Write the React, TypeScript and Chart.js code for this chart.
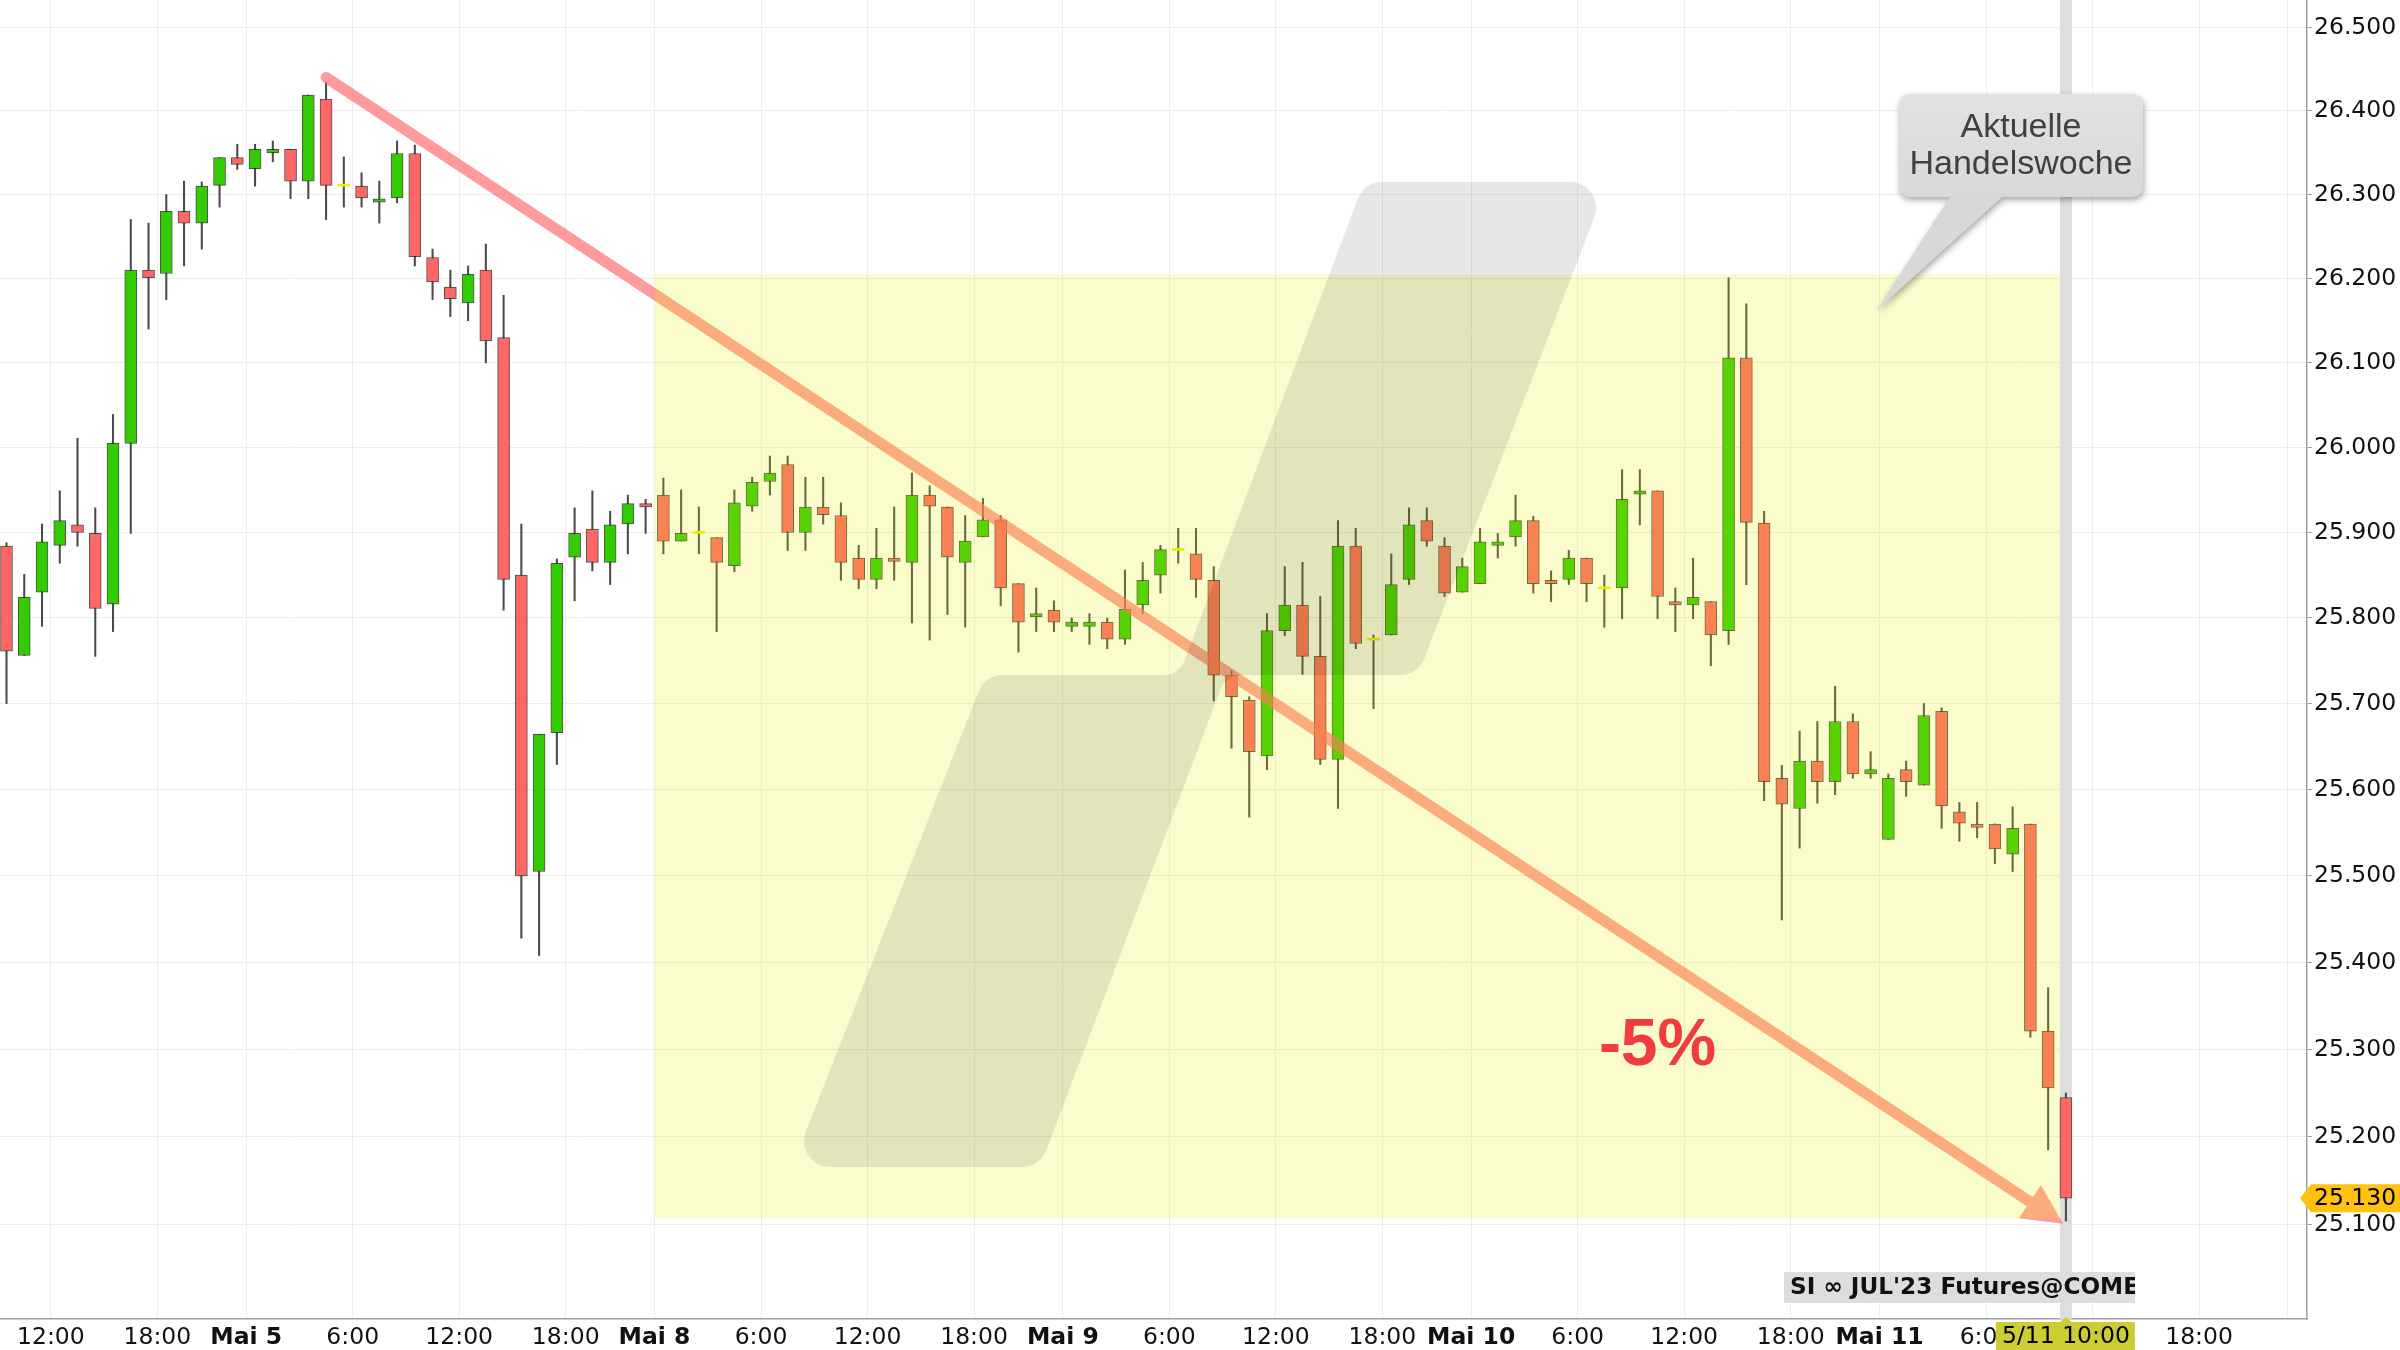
import React, { useEffect, useRef } from 'react';
import { Chart, registerables } from 'chart.js';

Chart.register(...registerables);

// Hourly candles, May 4 09:00 ... May 11 10:00 (index = candle number)
const opens = [
  25.884, 25.756, 25.830, 25.885, 25.909, 25.899, 25.816, 26.005, 26.210, 26.206,
  26.280, 26.266, 26.311, 26.344, 26.331, 26.350, 26.354, 26.316, 26.414, 26.310,
  26.310, 26.291, 26.296, 26.349, 26.225, 26.190, 26.171, 26.210, 26.130, 25.850,
  25.505, 25.666, 25.871, 25.904, 25.865, 25.910, 25.934, 25.944, 25.890, 25.899,
  25.894, 25.861, 25.931, 25.960, 25.980, 25.900, 25.930, 25.920, 25.870, 25.845,
  25.870, 25.865, 25.944, 25.930, 25.865, 25.895, 25.915, 25.840, 25.801, 25.809,
  25.790, 25.790, 25.795, 25.775, 25.815, 25.850, 25.879, 25.875, 25.844, 25.733,
  25.704, 25.639, 25.785, 25.815, 25.755, 25.635, 25.884, 25.774, 25.780, 25.845,
  25.914, 25.884, 25.830, 25.840, 25.885, 25.895, 25.914, 25.844, 25.845, 25.870,
  25.834, 25.835, 25.945, 25.949, 25.819, 25.815, 25.819, 25.785, 26.106, 25.911,
  25.613, 25.578, 25.633, 25.609, 25.679, 25.618, 25.542, 25.623, 25.605, 25.691,
  25.574, 25.560, 25.560, 25.525, 25.560, 25.321, 25.245,
];
const highs = [
  25.888, 25.851, 25.910, 25.949, 26.011, 25.929, 26.039, 26.270, 26.266, 26.300,
  26.316, 26.315, 26.344, 26.360, 26.360, 26.364, 26.354, 26.419, 26.434, 26.345,
  26.326, 26.316, 26.364, 26.359, 26.235, 26.210, 26.215, 26.241, 26.180, 25.910,
  25.664, 25.869, 25.929, 25.949, 25.925, 25.944, 25.939, 25.964, 25.950, 25.930,
  25.894, 25.950, 25.965, 25.990, 25.990, 25.965, 25.965, 25.935, 25.885, 25.905,
  25.930, 25.970, 25.955, 25.930, 25.920, 25.940, 25.920, 25.840, 25.835, 25.820,
  25.800, 25.805, 25.800, 25.856, 25.865, 25.885, 25.905, 25.905, 25.860, 25.739,
  25.708, 25.805, 25.860, 25.865, 25.825, 25.914, 25.905, 25.780, 25.875, 25.929,
  25.929, 25.894, 25.870, 25.905, 25.899, 25.944, 25.919, 25.855, 25.879, 25.870,
  25.850, 25.974, 25.974, 25.949, 25.835, 25.870, 25.819, 26.201, 26.170, 25.925,
  25.628, 25.668, 25.679, 25.720, 25.688, 25.644, 25.618, 25.633, 25.700, 25.695,
  25.585, 25.585, 25.560, 25.580, 25.560, 25.371, 25.250,
];
const lows = [
  25.700, 25.756, 25.790, 25.864, 25.884, 25.755, 25.784, 25.899, 26.140, 26.175,
  26.215, 26.235, 26.285, 26.330, 26.310, 26.339, 26.295, 26.295, 26.270, 26.285,
  26.285, 26.266, 26.290, 26.215, 26.175, 26.155, 26.150, 26.100, 25.809, 25.428,
  25.408, 25.629, 25.820, 25.855, 25.839, 25.875, 25.899, 25.875, 25.890, 25.875,
  25.784, 25.854, 25.925, 25.944, 25.879, 25.879, 25.910, 25.844, 25.834, 25.834,
  25.844, 25.794, 25.774, 25.804, 25.789, 25.895, 25.814, 25.760, 25.784, 25.784,
  25.784, 25.769, 25.764, 25.769, 25.805, 25.829, 25.864, 25.824, 25.703, 25.648,
  25.568, 25.623, 25.779, 25.734, 25.629, 25.578, 25.764, 25.694, 25.780, 25.839,
  25.884, 25.825, 25.830, 25.840, 25.870, 25.884, 25.829, 25.819, 25.839, 25.819,
  25.789, 25.799, 25.909, 25.799, 25.784, 25.799, 25.744, 25.769, 25.839, 25.587,
  25.449, 25.532, 25.584, 25.594, 25.613, 25.613, 25.542, 25.592, 25.605, 25.555,
  25.540, 25.544, 25.514, 25.505, 25.314, 25.185, 25.104,
];
const closes = [
  25.761, 25.824, 25.889, 25.914, 25.900, 25.811, 26.005, 26.210, 26.201, 26.280,
  26.266, 26.310, 26.344, 26.336, 26.354, 26.354, 26.316, 26.419, 26.311, 26.310,
  26.296, 26.295, 26.349, 26.226, 26.196, 26.176, 26.205, 26.126, 25.845, 25.500,
  25.664, 25.864, 25.899, 25.865, 25.909, 25.934, 25.930, 25.890, 25.899, 25.899,
  25.865, 25.935, 25.959, 25.970, 25.900, 25.930, 25.921, 25.865, 25.845, 25.870,
  25.866, 25.944, 25.931, 25.871, 25.890, 25.915, 25.835, 25.795, 25.805, 25.795,
  25.795, 25.795, 25.775, 25.810, 25.844, 25.880, 25.879, 25.845, 25.733, 25.708,
  25.644, 25.785, 25.815, 25.755, 25.635, 25.884, 25.770, 25.774, 25.839, 25.909,
  25.890, 25.829, 25.860, 25.889, 25.889, 25.914, 25.840, 25.840, 25.870, 25.840,
  25.834, 25.939, 25.949, 25.825, 25.815, 25.824, 25.780, 26.106, 25.912, 25.609,
  25.583, 25.633, 25.609, 25.679, 25.618, 25.623, 25.613, 25.609, 25.686, 25.581,
  25.561, 25.556, 25.531, 25.555, 25.321, 25.256, 25.130,
];

const xTickPositions = [2.5, 8.5, 13.5, 19.5, 25.5, 31.5, 36.5, 42.5, 48.5, 54.5, 59.5, 65.5, 71.5, 77.5, 82.5, 88.5, 94.5, 100.5, 105.5, 111.5, 117.5, 123.5, 128.5];
const xTickLabels = ['12:00', '18:00', 'Mai 5', '6:00', '12:00', '18:00', 'Mai 8', '6:00', '12:00', '18:00', 'Mai 9', '6:00', '12:00', '18:00', 'Mai 10', '6:00', '12:00', '18:00', 'Mai 11', '6:00', '12:00', '18:00', ''];
const yTickValues = [26.5, 26.4, 26.3, 26.2, 26.1, 26.0, 25.9, 25.8, 25.7, 25.6, 25.5, 25.4, 25.3, 25.2, 25.1];

const lastPrice = 25.13;
const crosshairIndex = 116;
const crosshairLabel = '5/11 10:00';
const instrumentLabel = "SI \u221e JUL'23 Futures@COMEX";
const trendStart = [18, 26.44];
const trendEnd = [115.85, 25.101];
const trendLabel = '-5%';
const trendLabelAt = [93, 25.282];
const weekZone = [36.5, 115.66, 25.107, 26.205];
const calloutLines = ['Aktuelle', 'Handelswoche'];

const GREEN = '#33CC00';
const RED = '#FF6666';
const DOJI = '#EEEE00';

function roundedPoly(ctx: CanvasRenderingContext2D, pts: number[][], r: number[]) {
  const n = pts.length;
  const sx = (pts[n - 1][0] + pts[0][0]) / 2;
  const sy = (pts[n - 1][1] + pts[0][1]) / 2;
  ctx.moveTo(sx, sy);
  for (let i = 0; i < n; i++) {
    const p = pts[i];
    const q = pts[(i + 1) % n];
    ctx.arcTo(p[0], p[1], q[0], q[1], r[i]);
  }
  ctx.closePath();
}

const overlayPlugin = {
  id: 'overlays',
  beforeDatasetsDraw(chart: any) {
    const { ctx, chartArea, scales } = chart;
    const x = scales.x.getPixelForValue(crosshairIndex);
    ctx.save();
    ctx.fillStyle = '#DEDEDE';
    ctx.fillRect(x - 6, chartArea.top, 12, chartArea.bottom - chartArea.top);
    ctx.restore();
  },
  afterDatasetsDraw(chart: any) {
    const { ctx, chartArea, scales } = chart;
    const xs = scales.x;
    const ys = scales.y;
    ctx.save();

    // trend arrow
    const x1 = xs.getPixelForValue(trendStart[0]);
    const y1 = ys.getPixelForValue(trendStart[1]);
    const x2 = xs.getPixelForValue(trendEnd[0]);
    const y2 = ys.getPixelForValue(trendEnd[1]);
    const ang = Math.atan2(y2 - y1, x2 - x1);
    const c = Math.cos(ang), s = Math.sin(ang);
    const nx = -s, ny = c;
    const w = 5.5, headLen = 40, headW = 20;
    const bx = x2 - headLen * c, by = y2 - headLen * s;
    ctx.beginPath();
    ctx.moveTo(x1 + nx * w, y1 + ny * w);
    ctx.lineTo(bx + nx * w, by + ny * w);
    ctx.lineTo(bx + nx * headW, by + ny * headW);
    ctx.lineTo(x2, y2);
    ctx.lineTo(bx - nx * headW, by - ny * headW);
    ctx.lineTo(bx - nx * w, by - ny * w);
    ctx.lineTo(x1 - nx * w, y1 - ny * w);
    ctx.arc(x1, y1, w, ang + Math.PI / 2, ang + 1.5 * Math.PI);
    ctx.closePath();
    ctx.fillStyle = 'rgba(255,102,102,0.65)';
    ctx.fill();

    // current week zone
    const zx1 = xs.getPixelForValue(weekZone[0]);
    const zx2 = xs.getPixelForValue(weekZone[1]);
    const zy1 = ys.getPixelForValue(weekZone[3]);
    const zy2 = ys.getPixelForValue(weekZone[2]);
    ctx.fillStyle = 'rgba(230,240,0,0.2)';
    ctx.fillRect(zx1, zy1, zx2 - zx1, zy2 - zy1);

    // watermark logo
    ctx.beginPath();
    roundedPoly(ctx, [
      [792, 1167], [985, 675], [1179, 675], [1364, 182], [1608, 182], [1418, 675], [1226, 675], [1040, 1167],
    ], [26, 26, 22, 26, 26, 26, 22, 26]);
    ctx.fillStyle = 'rgba(0,0,0,0.095)';
    ctx.fill();

    // -5% label
    ctx.font = 'bold 66px "Liberation Sans", Arial, sans-serif';
    ctx.fillStyle = '#F03C3C';
    ctx.textAlign = 'center';
    ctx.textBaseline = 'alphabetic';
    ctx.fillText(trendLabel, xs.getPixelForValue(trendLabelAt[0]), ys.getPixelForValue(trendLabelAt[1]));

    // callout
    ctx.save();
    ctx.shadowColor = 'rgba(0,0,0,0.35)';
    ctx.shadowBlur = 6;
    ctx.shadowOffsetX = 1;
    ctx.shadowOffsetY = 3;
    const L = 1899, T = 94, R = 2143, B = 197, rr = 10;
    ctx.beginPath();
    ctx.moveTo(L + rr, T);
    ctx.lineTo(R - rr, T);
    ctx.arcTo(R, T, R, T + rr, rr);
    ctx.lineTo(R, B - rr);
    ctx.arcTo(R, B, R - rr, B, rr);
    ctx.lineTo(2002, B);
    ctx.lineTo(1877, 310);
    ctx.lineTo(1950, B);
    ctx.lineTo(L + rr, B);
    ctx.arcTo(L, B, L, B - rr, rr);
    ctx.lineTo(L, T + rr);
    ctx.arcTo(L, T, L + rr, T, rr);
    ctx.closePath();
    const g = ctx.createLinearGradient(0, T, 0, B);
    g.addColorStop(0, '#E2E2E2');
    g.addColorStop(1, '#D8D8D8');
    ctx.fillStyle = g;
    ctx.fill();
    ctx.restore();
    ctx.font = '34px "Liberation Sans", Arial, sans-serif';
    ctx.fillStyle = '#404040';
    ctx.textAlign = 'center';
    ctx.textBaseline = 'middle';
    ctx.fillText(calloutLines[0], 2021, 128);
    ctx.fillText(calloutLines[1], 2021, 165);

    // instrument label
    ctx.save();
    ctx.fillStyle = '#DDDDDD';
    ctx.fillRect(1784, 1272, 351, 31);
    ctx.beginPath();
    ctx.rect(1784, 1272, 351, 31);
    ctx.clip();
    ctx.fillStyle = '#111';
    ctx.font = 'bold 23.2px "DejaVu Sans"';
    ctx.textAlign = 'left';
    ctx.textBaseline = 'middle';
    ctx.fillText(instrumentLabel, 1790, 1288);
    ctx.restore();

    // crosshair x label
    const cx = xs.getPixelForValue(crosshairIndex);
    const axisY = chartArea.bottom;
    ctx.fillStyle = '#CCCC33';
    ctx.beginPath();
    ctx.moveTo(cx, axisY - 2);
    ctx.lineTo(cx - 7, axisY + 4);
    ctx.lineTo(cx + 7, axisY + 4);
    ctx.closePath();
    ctx.fill();
    ctx.fillRect(cx - 70, axisY + 3, 139, 28);
    ctx.fillStyle = '#000';
    ctx.font = '23.5px "DejaVu Sans"';
    ctx.textAlign = 'center';
    ctx.textBaseline = 'middle';
    ctx.fillText(crosshairLabel, cx, axisY + 18);

    // last price label
    const py = ys.getPixelForValue(lastPrice);
    const ax = chartArea.right;
    ctx.fillStyle = '#FFC20E';
    ctx.beginPath();
    ctx.moveTo(ax - 7, py);
    ctx.lineTo(ax + 4, py - 14);
    ctx.lineTo(2400, py - 14);
    ctx.lineTo(2400, py + 14);
    ctx.lineTo(ax + 4, py + 14);
    ctx.closePath();
    ctx.fill();
    ctx.fillStyle = '#000';
    ctx.textAlign = 'left';
    ctx.fillText(lastPrice.toFixed(3), ax + 7, py + 1);

    ctx.restore();
  },
};

export default function App() {
  const ref = useRef<HTMLCanvasElement>(null);

  useEffect(() => {
    document.body.style.margin = '0';
    const canvas = ref.current;
    if (!canvas) return;

    const bodies = opens.map((o, i) => ({ x: i, y: [o, closes[i]] }));
    const wicks = lows.map((l, i) => ({ x: i, y: [l, highs[i]] }));
    const bodyColors = opens.map((o, i) => (closes[i] > o ? GREEN : closes[i] < o ? RED : DOJI));
    const bodyBorders = opens.map((o, i) => (closes[i] === o ? 0 : 1));

    Chart.defaults.font.family = '"DejaVu Sans"';

    const chart = new Chart(canvas, {
      type: 'bar',
      data: {
        datasets: [
          {
            data: wicks as any,
            backgroundColor: '#4a4a4a',
            borderWidth: 0,
            barThickness: 1.4,
            grouped: false,
            order: 2,
          } as any,
          {
            data: bodies as any,
            backgroundColor: bodyColors,
            borderColor: 'rgba(35,35,35,0.8)',
            borderWidth: bodyBorders,
            borderSkipped: false,
            barThickness: 12,
            minBarLength: 2,
            grouped: false,
            order: 1,
          } as any,
        ],
      },
      options: {
        responsive: false,
        devicePixelRatio: 1,
        animation: false,
        layout: { padding: 0 },
        plugins: { legend: { display: false }, tooltip: { enabled: false } },
        scales: {
          x: {
            type: 'linear',
            min: -0.366,
            max: 129.58,
            offset: false,
            grid: { color: '#EDEDED', lineWidth: 1, offset: false, drawTicks: false },
            border: { color: '#A0A0A0', width: 1.5 },
            ticks: {
              autoSkip: false,
              maxRotation: 0,
              padding: 5,
              color: '#111',
              font: (ctx: any) => ({
                family: '"DejaVu Sans"',
                size: 23.5,
                weight: (xTickLabels[ctx.index] || '').startsWith('Mai') ? 'bold' : 'normal',
              }),
              callback: (_v: any, i: number) => xTickLabels[i],
            },
            afterBuildTicks: (scale: any) => {
              scale.ticks = xTickPositions.map((v) => ({ value: v }));
            },
            afterFit: (scale: any) => {
              scale.height = 31;
              scale.paddingLeft = 0;
              scale.paddingRight = 0;
            },
          } as any,
          y: {
            type: 'logarithmic',
            position: 'right',
            min: 24.9927,
            max: 26.533,
            grid: { color: '#EDEDED', lineWidth: 1, tickColor: '#A0A0A0', tickLength: 5 },
            border: { color: '#A0A0A0', width: 1.5 },
            ticks: {
              autoSkip: false,
              padding: 2,
              color: '#111',
              font: { family: '"DejaVu Sans"', size: 23.5 },
              callback: (v: any) => Number(v).toFixed(3),
            },
            afterBuildTicks: (scale: any) => {
              scale.ticks = yTickValues.map((v) => ({ value: v }));
            },
            afterFit: (scale: any) => {
              scale.width = 93;
              scale.paddingTop = 0;
              scale.paddingBottom = 0;
            },
          } as any,
        },
      } as any,
      plugins: [overlayPlugin],
    });

    return () => chart.destroy();
  }, []);

  return <canvas ref={ref} width={2400} height={1350} style={{ display: 'block', width: 2400, height: 1350 }} />;
}
